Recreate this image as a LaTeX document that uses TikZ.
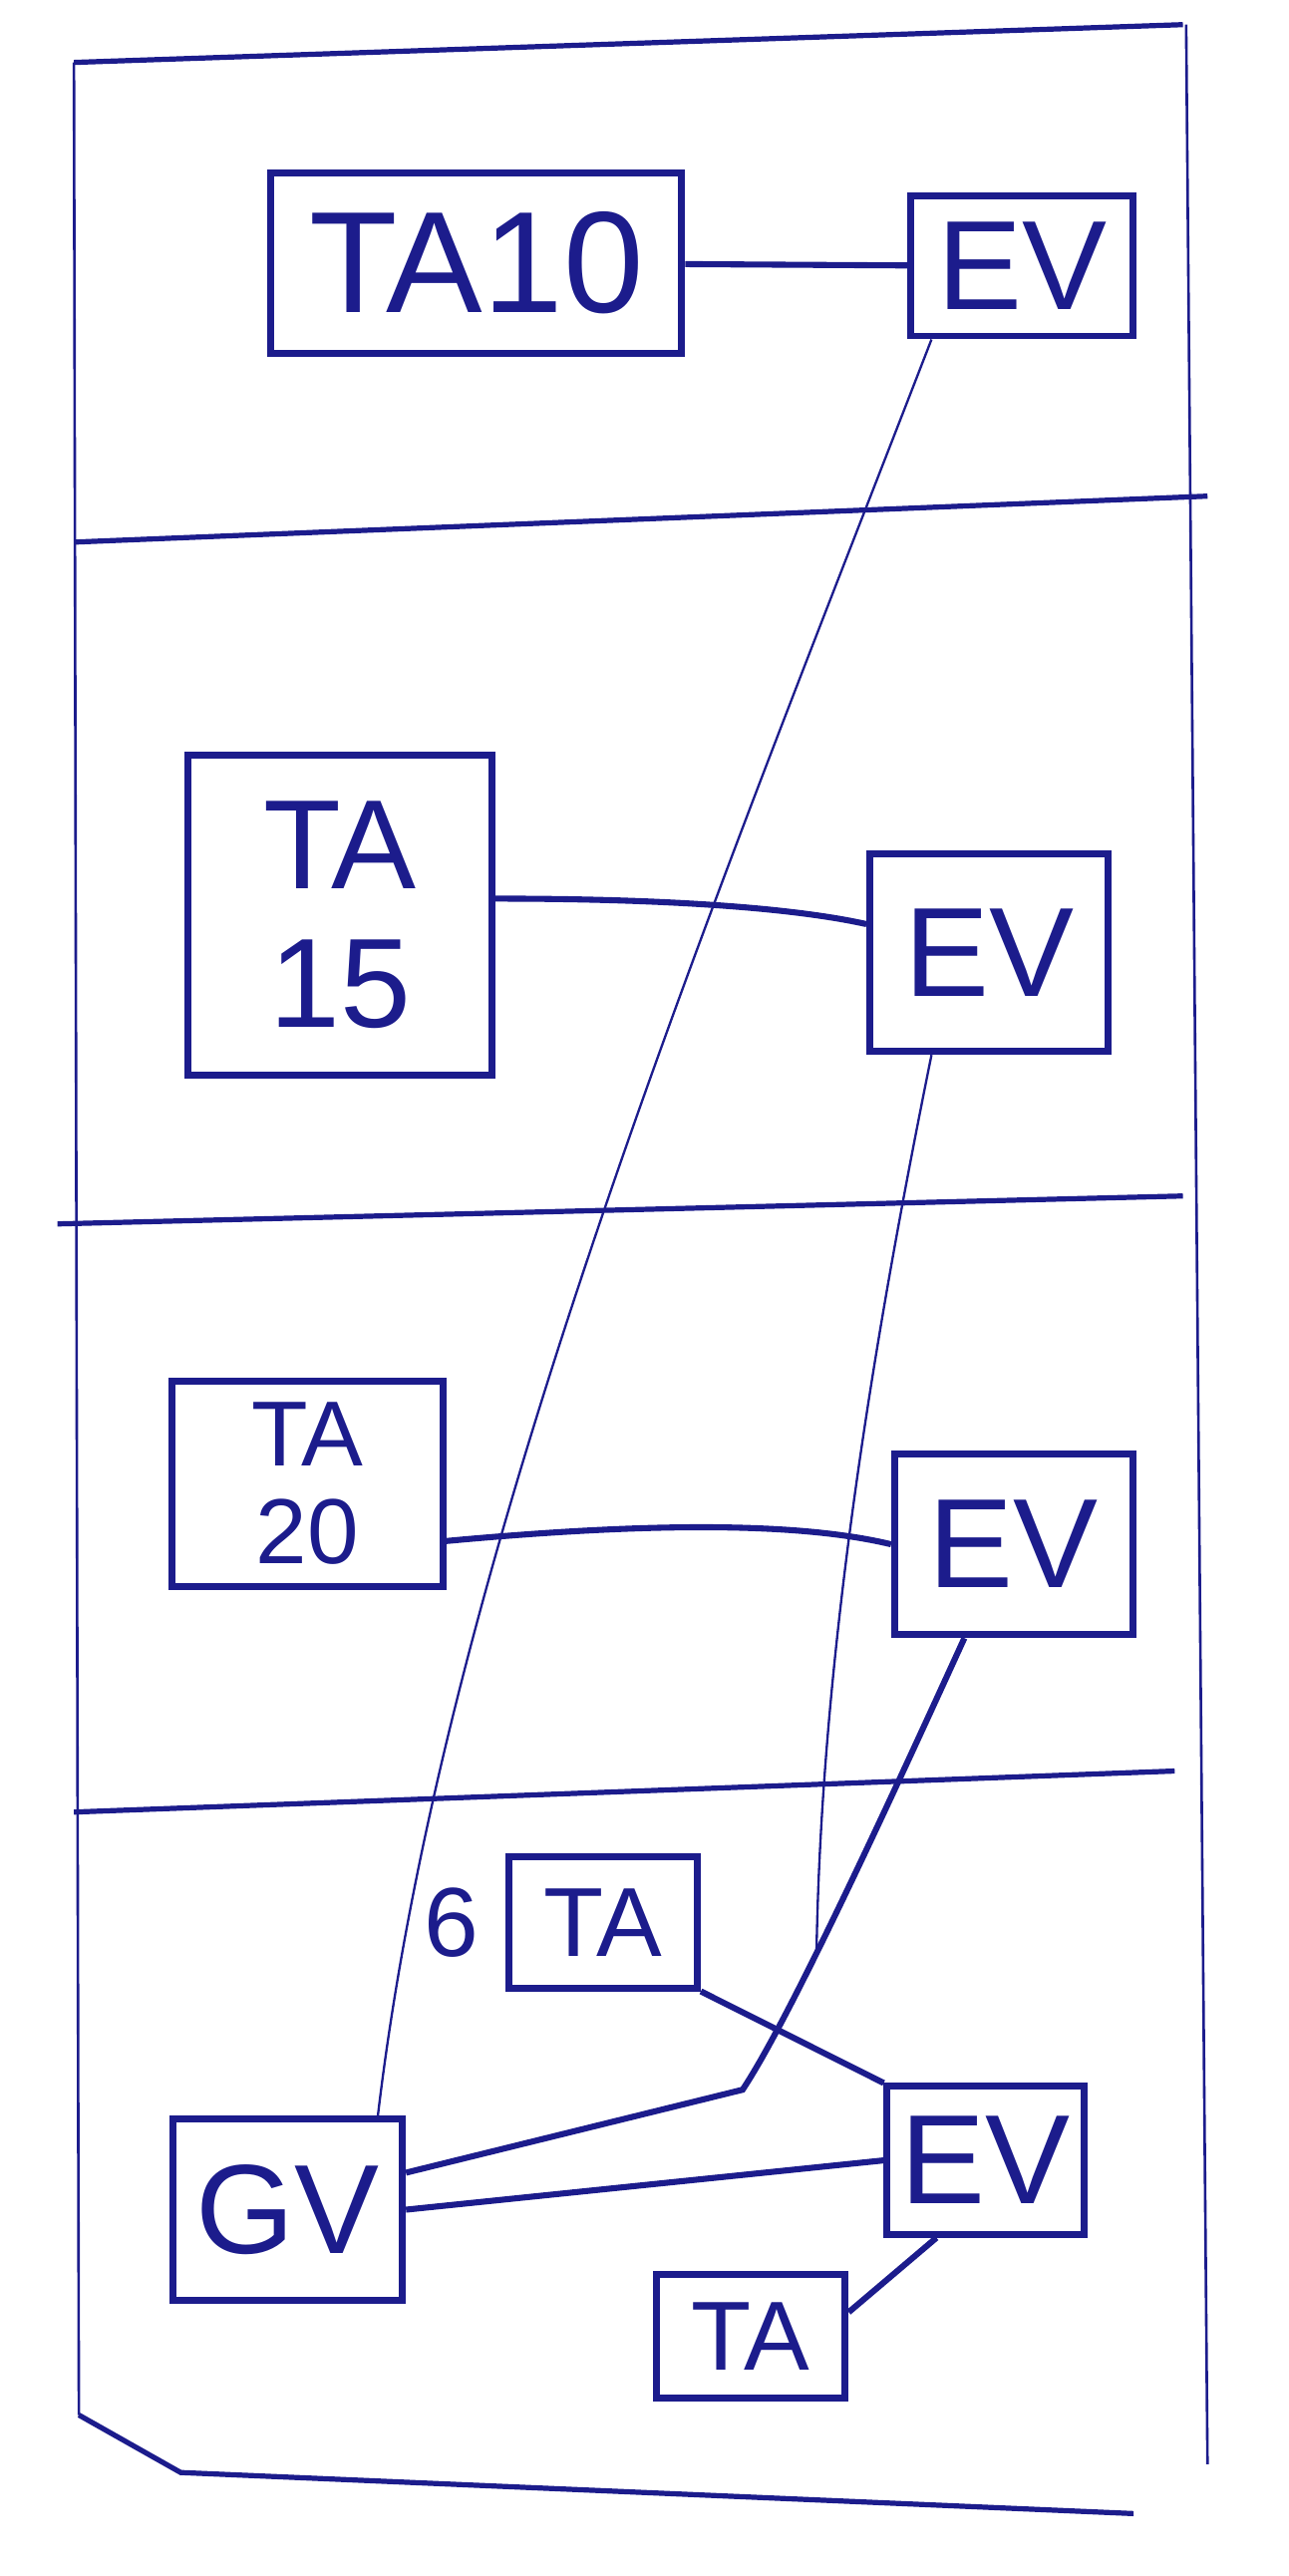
\documentclass[tikz,border=0pt]{standalone}
\usepackage{fontspec}
\setmainfont{Liberation Sans}
\usetikzlibrary{positioning}
\definecolor{ink}{RGB}{28,28,140}

\begin{document}
\begin{tikzpicture}[
    x=0.2mm, y=-0.2mm,
    node distance=2mm,
    box/.style={
        draw=ink,
        text=ink,
        line width=2.4pt,
        align=center,
        inner sep=2pt
    },
    big/.style={font=\fontsize{44}{48}\selectfont},
    mid/.style={font=\fontsize{34}{36}\selectfont},
    frame/.style={draw=ink, line width=1.8pt},
    side/.style={draw=ink, line width=0.9pt},
    link/.style={draw=ink, line width=2.1pt},
    wire/.style={draw=ink, line width=0.8pt}
]
\useasboundingbox (0,0) rectangle (784,1568);

% sheet and rows
\draw[frame] (45,38) -- (720,15);
\draw[side] (45,38) -- (48,1470);
\draw[frame] (48,1470) -- (110,1505) -- (690,1530);
\draw[side] (722,15) -- (735,1500);
\draw[frame] (45,330) -- (735,302);
\draw[frame] (35,745) -- (720,728);
\draw[frame] (45,1103) -- (715,1078);

% nodes
\node[box, font=\fontsize{50}{54}\selectfont, minimum width=50mm, minimum height=22mm] (ta10) at (290,160) {TA10};
\node[box, big, minimum width=27mm, minimum height=17mm] (ev1) at (622,162) {EV};

\node[box, big, minimum width=37mm, minimum height=39mm] (ta15) at (207,557) {TA\\15};
\node[box, big, minimum width=29mm, minimum height=24mm] (ev2) at (602,580) {EV};

\node[box, font=\fontsize{32}{34}\selectfont, minimum width=33mm, minimum height=25mm] (ta20) at (187,903) {TA\\20};
\node[box, big, minimum width=29mm, minimum height=22mm] (ev3) at (617,940) {EV};

\node[box, mid, minimum width=23mm, minimum height=16mm] (ta6) at (367,1170) {TA};
\node[mid, text=ink, left=of ta6] (six) {6};
\node[box, big, minimum width=28mm, minimum height=22mm] (gv) at (175,1345) {GV};
\node[box, big, minimum width=24mm, minimum height=18mm] (ev4) at (600,1315) {EV};
\node[box, mid, minimum width=23mm, minimum height=15mm] (tab) at (457,1422) {TA};

\coordinate (knee) at (452,1272);
\coordinate (join) at (497,1189);

% connectors
\draw[link] (ta10) -- (ev1);
\draw[link] ([yshift=2mm]ta15.east) .. controls (400,547) and (480,552) .. ([yshift=3.5mm]ev2.west);
\draw[link] ([yshift=-7mm]ta20.east) .. controls (380,928) and (480,925) .. (ev3.west);
\draw[wire] ([xshift=-11mm]ev1.south) .. controls (430,560) and (270,950) .. ([xshift=11mm]gv.north);
\draw[wire] ([xshift=-7mm]ev2.south) .. controls (535,800) and (500,1000) .. (join);
\draw[link] ([xshift=-6mm]ev3.south) .. controls (540,1100) and (480,1230) .. (knee) -- ([yshift=4.5mm]gv.east);
\draw[link] (ta6.south east) -- (ev4.north west);
\draw[link] (gv.east) -- (ev4.west);
\draw[link] ([yshift=-5mm]tab.north east) -- ([xshift=-6mm]ev4.south);

\end{tikzpicture}
\end{document}
